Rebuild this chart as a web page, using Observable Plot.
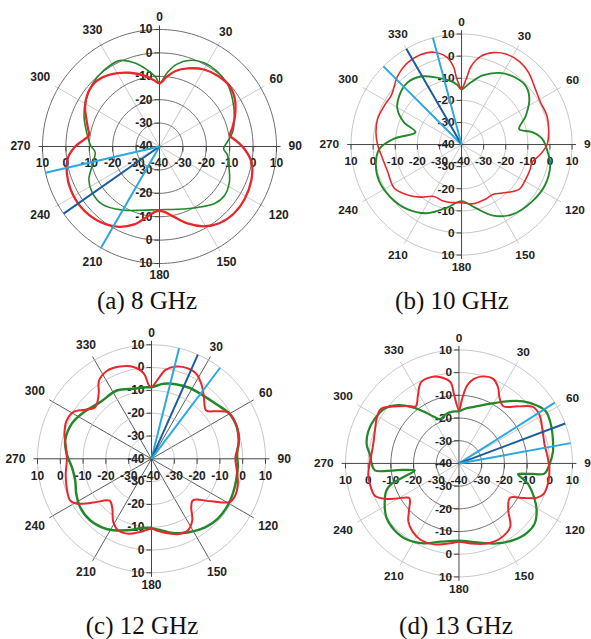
<!DOCTYPE html>
<html>
<head>
<meta charset="utf-8">
<script src="https://cdn.jsdelivr.net/npm/d3@7"></script>
<script src="https://cdn.jsdelivr.net/npm/@observablehq/plot@0.6"></script>
<style>
  html, body { margin: 0; background: #fff; }
  #fig { position: relative; width: 591px; height: 639px; overflow: hidden; background: #fff; }
  .panel { position: absolute; }
  .panel svg { overflow: visible; }
  .cap { position: absolute; transform: translate(-50%, -50%); white-space: nowrap; line-height: 1;
         font-family: "Liberation Serif", "Times New Roman", serif; font-size: 25px; color: #111; }
</style>
</head>
<body>
<div id="fig"></div>
<script>
// Polar grid: angle ticks (degrees, clockwise from top) and dB rings
const angleTicks = [0, 30, 60, 90, 120, 150, 180, 210, 240, 270, 300, 330];
const ringLevels = [-40, -30, -20, -10, 0, 10];
const dbFloor = -40;
const dbTop = 10;

// Radiation patterns: [angle in degrees, gain in dB]
const red8 = [[0,-13],[6,-10],[12,-7],[20,-4.5],[30,-2],[40,-0.8],[50,-0.5],[58,-2],[68,-5.2],[76,-8],[81,-9.5],[86,-7],[92,-3.5],[100,0],[110,1.8],[122,2.8],[132,2.8],[142,1.6],[151,-1],[160,-5],[170,-10],[176,-12],[180,-12.5],[184,-12],[190,-9.5],[198,-5],[208,-1.2],[220,1.3],[232,2.4],[244,2.2],[254,1.2],[263,-0.6],[270,-4],[275,-7.5],[279,-9.5],[284,-8.5],[290,-6.8],[298,-4],[307,-1.8],[316,-1.2],[326,-2.8],[338,-6],[348,-9],[355,-11.5]];
const green8 = [[0,-13],[6,-8.2],[12,-4],[20,-0.8],[28,0.5],[37,0.5],[47,-0.5],[57,-2.8],[68,-5.5],[79,-8.2],[86,-10.9],[92,-12.6],[97,-10.8],[108,-8.7],[117,-6.5],[127,-5.2],[136,-6.1],[148,-9.3],[164,-12.1],[180,-13],[195,-11.8],[210,-8.6],[225,-5.2],[236,-5.2],[245,-6.7],[256,-10.7],[265,-12.4],[271,-10.5],[278,-9],[284,-7.5],[292,-5.2],[302,-2.8],[313,-0.8],[324,0.3],[335,0.5],[344,-3],[352,-7.5],[357,-10.5]];
const beams8 = [210, 235, 257];

const red10 = [[0,-14.7],[4,-10.4],[7,-4.3],[12,0.7],[19,4],[26,5.6],[35,5.8],[43,4.5],[53,1.8],[62,0.5],[71,0.8],[82,-0.2],[90,-1.3],[97,-4],[104,-7.1],[110,-7],[119,-7],[128,-7],[137,-10.3],[148,-13.3],[156,-13],[169,-12.7],[180,-13.7],[191,-13.3],[198,-13.1],[208,-13.4],[218,-9.8],[227,-6.6],[237,-3.7],[250,-4.4],[260,-3.7],[270,-2],[278,-0.9],[287,-0.3],[297,-0.9],[305,-1.2],[317,2.4],[326,4.3],[335,4.7],[343,3.7],[350,0.4],[354,-4.4],[356,-10.4]];
const green10 = [[0,-15],[8,-11.8],[17,-7.3],[28,-3.3],[39,-1.1],[48,-0.7],[56,-3],[66,-8.2],[75,-13],[80,-7.5],[86,-3.4],[97,-0.3],[103,1.2],[116,2],[129,1],[144,-0.9],[156,-4.8],[168,-10.8],[180,-14.4],[193,-10.7],[207,-5.1],[220,-1.8],[233,0],[246,0.8],[257,-0.2],[267,-2.8],[275,-9.4],[285,-18.4],[291,-12.1],[299,-6.8],[308,-4.2],[319,-2.8],[329,-4.1],[340,-7.8],[350,-10.8],[356,-13]];
const beams10 = [315, 330, 345];

const red12 = [[0,-8.6],[4,-5.6],[9,-0.5],[15,1.9],[21,2.7],[28,2.1],[35,-1.3],[41,-4.9],[48.5,-8],[54,-4.5],[58.6,-0.8],[65,0.1],[74,-0.2],[80,-1.1],[89,-3.2],[98,-2.2],[106,-0.6],[114,0.1],[119,-0.9],[125.5,-7.9],[135,-14.3],[140.5,-12.6],[146.5,-7.6],[153,-4.8],[160,-4.9],[169,-6.8],[176,-8.5],[180,-9.3],[189,-7.5],[197,-5.6],[205,-5.4],[211,-7.5],[219,-12.6],[225,-14],[233,-8.1],[239,-1.8],[243,0.1],[252,-0.8],[260,-1.8],[270,-2.9],[278,-2.1],[286,-0.3],[294,0.8],[301,-0.1],[306.5,-3.8],[312.5,-6.5],[321,-3.2],[326,1.2],[333,3.2],[341,2.8],[349,1],[355,-2.6],[358,-7.8]];
const green12 = [[0,-8.6],[9,-6.7],[18,-5.6],[28,-4.7],[39,-4.2],[50,-2.8],[60,-0.5],[70,-0.1],[78,-0.9],[87,-2.4],[95,-2],[104,-1.7],[113,-1.2],[121,-0.8],[132,-0.8],[142,-1.8],[153,-3.8],[164,-6.1],[174,-8.7],[180,-9.5],[187,-9.4],[199,-6.8],[212,-3.6],[225,-1.9],[236,-2.2],[245,-3.6],[254,-5.2],[264,-4.9],[273,-2.8],[282,-1.3],[294,-1.8],[304,-3.8],[318,-6.5],[333,-6.4],[346,-8.3],[356,-8.5]];
const beams12 = [14, 24, 37];

const red13 = [[0,-16.5],[3,-11],[6,-5.5],[10,-2.2],[16,-0.1],[22,0.2],[27,-2.2],[32,-6.2],[37.8,-8.1],[46,-3.8],[52.6,1],[59,1.4],[69,-0.5],[78,-1.4],[86,-0.8],[95,0],[103,0.2],[110,-0.4],[114,-2.7],[118.3,-7.9],[124,-12.9],[133.6,-10],[141,-4.1],[151,-2.3],[161,-2.7],[172,-4.4],[180,-5.5],[186,-4.6],[197,-2.7],[206.5,-2.3],[214,-3.6],[221,-6],[227,-9.9],[235,-13.3],[240.2,-9],[244,-4.3],[249,-0.3],[257,0.3],[263,0.3],[274,-1.1],[282,-1.3],[291,-0.3],[299,1.4],[305,1.9],[313,-3.1],[318,-5.9],[323,-8.4],[329,-4.9],[335,-0.5],[342,0],[348,-1.2],[354,-4],[356,-9.9]];
const green13 = [[0,-17],[7,-15.6],[15,-14.2],[28,-10.2],[37.5,-5.5],[46,-0.6],[53,2.6],[59,4.6],[67,4],[75,2.8],[83,1.7],[90.6,-0.1],[96.8,-2.1],[98.3,-7.8],[100.4,-13.5],[103.8,-10.9],[106.7,-8.2],[114,-3.9],[121,-0.1],[128.5,2.6],[136,2.8],[144.7,1.4],[154.7,-1],[167,-4.3],[180,-6],[193,-4.6],[203.6,-1.6],[214,0.6],[224,0.9],[233.6,-0.2],[241.4,-2.7],[249.4,-5.8],[253,-8.8],[256.1,-14.6],[261,-20.3],[263.9,-11.6],[265.3,-2.8],[270,-1.5],[275.6,-0.6],[281.5,1.5],[289.4,2.4],[298,2],[306.5,0.7],[313.6,-2.8],[319.7,-7.3],[326,-12.5],[331.8,-16.7],[337.5,-18.8],[345,-17.5],[353,-17]];
const beams13 = [57.6, 69.4, 79.7];

const captions = ["(a) 8 GHz", "(b) 10 GHz", "(c) 12 GHz", "(d) 13 GHz"];

// Colours
const RED = "#e8262b", GREEN = "#22882a", LIGHT_BLUE = "#2aa8e0", DARK_BLUE = "#1d5c9c";
const LIGHT = "#c4c4c4";

// Layout of the four panels (page pixels)
const panels = [
  {red: red8, green: green8, beams: beams8, caption: captions[0], cx: 159, cy: 146, R: 117, left: 0, top: 0, capX: 147, capY: 300,
   ring: () => "#5c5c5c", spoke: LIGHT, redW: 2.3, greenW: 1.6},
  {red: red10, green: green10, beams: beams10, caption: captions[1], cx: 463.3, cy: 146, R: 112, left: 295, top: 0, capX: 452, capY: 300,
   ring: () => "#bdbdbd", spoke: LIGHT, redW: 1.6, greenW: 1.9},
  {red: red12, green: green12, beams: beams12, caption: captions[2], cx: 151, cy: 458.3, R: 114, left: 0, top: 310, capX: 142, capY: 625,
   ring: () => "#c0c0c0", spoke: "#4a4a4a", redW: 2, greenW: 2.5},
  {red: red13, green: green13, beams: beams13, caption: captions[3], cx: 460.7, cy: 465, R: 115, left: 295, top: 310, capX: 456, capY: 625,
   ring: (L) => (L <= -10 ? "#5a5a5a" : "#c0c0c0"), spoke: LIGHT, redW: 2, greenW: 2.3}
];

const span = dbTop - dbFloor;
const rad = (deg) => deg * Math.PI / 180;
const px = (deg, r) => r * Math.sin(rad(deg));
const py = (deg, r) => r * Math.cos(rad(deg));
const rOf = (db) => db - dbFloor;

const fig = document.getElementById("fig");
const labelFont = {fontFamily: "Liberation Sans, Arial, sans-serif", fontSize: 12, fontWeight: "bold", fill: "#222"};

function drawPanel(p) {
  const k = p.R / span;               // pixels per dB
  const cx = p.cx - p.left, cy = p.cy - p.top;
  const rings = ringLevels.filter((L) => L > dbFloor);
  const axisAngles = [0, 90, 180, 270];

  const ringPts = rings.flatMap((L) =>
    d3.range(0, 361, 2).map((a) => ({L, x: px(a, rOf(L)), y: py(a, rOf(L))})));
  const curve = (arr) => arr.map(([a, db]) => ({x: px(a, rOf(db)), y: py(a, rOf(db))}));
  const ext = span + 4 / k;

  const vTicks = rings.flatMap((L) => [rOf(L), -rOf(L)]);
  const tickLen = 5 / k;

  const vTop = ringLevels.map((L) => ({L, y: rOf(L)}));
  const vBottom = rings.map((L) => ({L, y: -rOf(L)}));
  const hLabels = [...rings.map((L) => ({L, x: -rOf(L)})), {L: dbFloor, x: 0}, ...rings.map((L) => ({L, x: rOf(L)}))];

  const angleLabels = angleTicks.map((a) => {
    const w = String(a).length * 6.7;
    const d = span + (12 + 0.5 * w * Math.abs(Math.sin(rad(a)))) / k;
    return {a, x: px(a, d), y: py(a, d)};
  });

  const beamData = p.beams.map((a, i) => ({a, i, x: px(a, span), y: py(a, span)}));

  const chart = Plot.plot({
    width: 300, height: 300, margin: 0,
    x: {domain: [-span, span], range: [cx - p.R, cx + p.R], axis: null},
    y: {domain: [-span, span], range: [cy + p.R, cy - p.R], axis: null},
    style: {overflow: "visible", background: "transparent"},
    marks: [
      // spokes every 30 degrees
      Plot.link(angleTicks.filter((a) => !axisAngles.includes(a)), {
        x1: 0, y1: 0, x2: (a) => px(a, ext), y2: (a) => py(a, ext), stroke: p.spoke, strokeWidth: 0.9
      }),
      // dB rings
      ...rings.map((L) => Plot.line(ringPts.filter((d) => d.L === L), {x: "x", y: "y", stroke: p.ring(L), strokeWidth: 0.9})),
      // main axes
      Plot.link(axisAngles, {x1: 0, y1: 0, x2: (a) => px(a, ext), y2: (a) => py(a, ext), stroke: "#444", strokeWidth: 1}),
      // axis ticks
      Plot.link(vTicks, {x1: -tickLen, x2: 0, y1: (r) => r, y2: (r) => r, stroke: "#444", strokeWidth: 1}),
      Plot.link(vTicks, {x1: (r) => r, x2: (r) => r, y1: 0, y2: -tickLen, stroke: "#444", strokeWidth: 1}),
      // tick labels
      Plot.text(vTop, {x: 0, y: "y", text: (d) => String(d.L), textAnchor: "end", dx: -7, ...labelFont}),
      Plot.text(vBottom, {x: 0, y: "y", text: (d) => String(d.L), textAnchor: "end", dx: -7, ...labelFont}),
      Plot.text(hLabels, {x: "x", y: 0, text: (d) => String(d.L), dy: 17, ...labelFont}),
      Plot.text(angleLabels, {x: "x", y: "y", text: (d) => String(d.a), ...labelFont}),
      // patterns
      Plot.line(curve(p.green), {x: "x", y: "y", curve: "catmull-rom-closed", stroke: GREEN, strokeWidth: p.greenW}),
      Plot.line(curve(p.red), {x: "x", y: "y", curve: "catmull-rom-closed", stroke: RED, strokeWidth: p.redW}),
      // beam directions, the centre one darker
      Plot.link(beamData, {x1: 0, y1: 0, x2: "x", y2: "y", stroke: (d) => (d.i === 1 ? DARK_BLUE : LIGHT_BLUE), strokeWidth: 2})
    ]
  });
  const holder = document.createElement("div");
  holder.className = "panel";
  holder.style.left = p.left + "px";
  holder.style.top = p.top + "px";
  holder.appendChild(chart);
  fig.appendChild(holder);

  const cap = document.createElement("div");
  cap.className = "cap";
  cap.style.left = p.capX + "px";
  cap.style.top = p.capY + "px";
  cap.textContent = p.caption;
  fig.appendChild(cap);
}

panels.forEach(drawPanel);
</script>
</body>
</html>
